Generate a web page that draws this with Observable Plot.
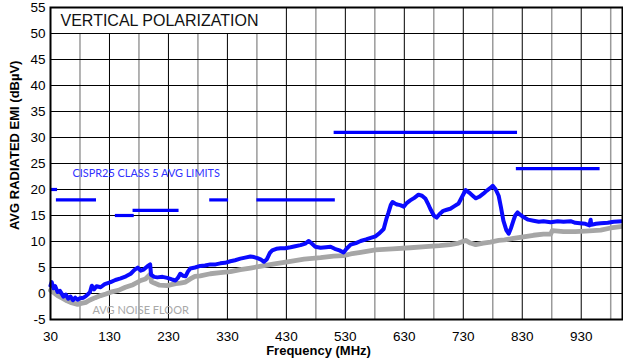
<!DOCTYPE html>
<html>
<head>
<meta charset="utf-8">
<script src="https://cdn.jsdelivr.net/npm/d3@7"></script>
<script src="https://cdn.jsdelivr.net/npm/@observablehq/plot@0.6"></script>
<style>
  html, body { margin: 0; padding: 0; background: #fff; }
  #chart { width: 623px; height: 360px; }
</style>
</head>
<body>
<div id="chart"></div>
<script>
// ---- Data ----
const xTicks = [30, 130, 230, 330, 430, 530, 630, 730, 830, 930];
const xMinorGrid = [80, 180, 280, 380, 480, 580, 680, 780, 880, 980];
const yTicks = [-5, 0, 5, 10, 15, 20, 25, 30, 35, 40, 45, 50, 55];

// CISPR25 class 5 average limit segments
const limitStart = [30, 40, 140, 170, 300, 380, 511, 820];
const limitEnd   = [42, 108, 172, 248, 332, 513, 822, 962];
const limitLevel = [20, 18, 15, 16, 18, 18, 31, 24];

// Measured EMI (blue)
const emiFreq = [30, 32, 35, 38, 42, 46, 52, 56, 60, 64, 68, 72, 76, 80, 86, 90, 94, 97, 100, 104, 108, 115, 122, 132, 140, 149, 158, 166, 172, 178, 183, 188, 194, 199, 200.5, 206, 211, 220, 228, 236, 242, 246, 250, 255, 259, 263, 267, 275, 284, 292, 301, 310, 318, 326, 335, 343, 352, 360, 369, 375, 381, 387, 392, 397, 402, 406, 413, 420, 428, 437, 445, 454, 462, 468, 473, 479, 488, 497, 505, 512, 520, 527, 532, 539, 548, 556, 565, 573, 581, 588, 595, 600, 603, 607, 610, 614, 618, 623, 629, 634, 640, 647, 654, 660, 666, 670, 674, 680, 685, 690, 696, 702, 708, 715, 722, 728, 734, 740, 746, 751, 757, 764, 770, 776, 780, 785, 790, 794, 798, 803, 807, 811, 815, 818, 822, 827, 832, 840, 849, 858, 866, 878, 890, 900, 912, 920, 928, 937, 944, 946, 947, 955, 963, 975, 985, 1000];
const emiLevel = [1.5, 2.2, 1.0, 1.4, 0.3, 0.5, -0.6, -0.2, -1.0, -0.6, -1.3, -0.8, -1.2, -0.9, -0.8, -0.5, -0.1, 0.3, 1.5, 0.8, 1.4, 1.2, 1.8, 2.2, 2.6, 2.9, 3.3, 3.8, 4.5, 5.0, 4.4, 4.6, 5.2, 5.6, 3.6, 3.2, 3.1, 3.2, 3.0, 2.7, 2.5, 3.0, 3.8, 3.4, 3.3, 4.2, 4.8, 5.0, 5.3, 5.4, 5.6, 5.6, 5.8, 5.9, 6.2, 6.4, 6.7, 6.9, 7.1, 7.0, 6.8, 6.5, 6.1, 6.6, 7.8, 8.3, 8.6, 8.7, 8.7, 8.9, 9.1, 9.3, 9.6, 10.1, 9.6, 9.0, 8.8, 8.9, 9.0, 8.6, 8.3, 7.9, 8.6, 9.4, 9.7, 10.1, 10.4, 10.7, 11.0, 11.6, 12.4, 14.5, 15.5, 17.0, 17.6, 17.3, 17.1, 17.0, 16.7, 17.4, 17.9, 18.4, 19.0, 18.8, 18.2, 17.3, 16.3, 15.0, 14.6, 15.3, 15.9, 16.1, 16.3, 16.8, 17.3, 18.6, 19.9, 19.4, 18.8, 18.3, 18.6, 19.2, 19.8, 20.3, 20.7, 20.0, 18.8, 16.5, 14.0, 12.2, 11.5, 12.6, 14.0, 15.0, 15.6, 15.1, 14.7, 14.2, 14.0, 13.8, 13.9, 13.7, 13.9, 13.8, 13.9, 13.6, 13.5, 13.4, 13.1, 14.2, 13.2, 13.4, 13.5, 13.6, 13.8, 13.9];

// Average noise floor (gray)
const noiseFreq = [30, 35, 42, 50, 58, 64, 70, 76, 82, 90, 96, 106, 115, 124, 132, 145, 157, 170, 183, 191, 200, 201, 206, 215, 228, 242, 250, 259, 267, 275, 284, 301, 318, 335, 352, 369, 380, 395, 410, 437, 460, 488, 510, 527, 539, 556, 581, 610, 640, 666, 690, 708, 722, 734, 742, 751, 764, 776, 790, 800, 815, 832, 849, 866, 878, 881, 900, 920, 937, 963, 980, 1000];
const noiseLevel = [0.6, 0.2, -0.4, -0.9, -1.4, -1.7, -1.9, -2.1, -1.9, -1.7, -1.3, -0.8, -0.4, -0.1, 0.25, 0.6, 1.2, 1.7, 2.5, 2.8, 3.8, 2.3, 2.0, 1.6, 1.5, 1.9, 2.0, 2.2, 2.8, 3.3, 3.4, 3.8, 4.0, 4.2, 4.6, 4.9, 5.1, 5.4, 5.7, 6.2, 6.6, 6.9, 7.2, 7.3, 7.6, 7.9, 8.4, 8.6, 8.8, 9.0, 9.2, 9.4, 9.7, 10.2, 9.7, 9.4, 9.7, 9.9, 10.2, 10.3, 10.6, 10.9, 11.2, 11.4, 11.4, 12.1, 11.9, 11.9, 12.0, 12.2, 12.6, 12.9];

// Text labels
const titleText = "VERTICAL POLARIZATION";
const limitText = "CISPR25 CLASS 5 AVG LIMITS";
const noiseText = "AVG NOISE FLOOR";
const xLabel = "Frequency (MHz)";
const yLabel = "AVG RADIATED EMI (dBµV)";

// ---- Build tables ----
const emi = emiFreq.map((f, i) => ({f, v: emiLevel[i]}));
const noise = noiseFreq.map((f, i) => ({f, v: noiseLevel[i]}));
const limits = limitStart.map((s, i) => ({x1: s, x2: limitEnd[i], y: limitLevel[i]}));

const FONT = "'Liberation Sans', Arial, Helvetica, sans-serif";

const chart = Plot.plot({
  width: 623,
  height: 360,
  marginLeft: 50,
  marginRight: 1,
  marginTop: 7,
  marginBottom: 41,
  style: {fontFamily: FONT, fontSize: "13px", color: "#000", background: "#fff", overflow: "visible"},
  x: {domain: [30, 1000]},
  y: {domain: [-5, 55]},
  marks: [
    // vertical grid
    Plot.ruleX(xMinorGrid, {stroke: "#9a9a9a", strokeWidth: 1.5}),
    Plot.ruleX(xTicks, {stroke: "#000", strokeWidth: 1}),
    // white title box
    Plot.rect([titleText], {x1: 30, x2: 430, y1: 50, y2: 55, fill: "#fff", insetRight: 1}),
    // horizontal grid
    Plot.ruleY(yTicks, {stroke: "#000", strokeWidth: 1}),
    // axes
    Plot.axisY(yTicks, {tickSize: 0, tickPadding: 5, tickFormat: d => String(d), fontSize: 13.5, label: null}),
    Plot.axisX(xTicks, {tickSize: 0, tickPadding: 12, tickFormat: d => String(d), fontSize: 13.5, label: null}),
    // limit lines
    Plot.ruleY(limits, {y: "y", x1: "x1", x2: "x2", stroke: "#0000ff", strokeWidth: 3.2}),
    // data
    Plot.line(noise, {x: "f", y: "v", stroke: "#a6a6a6", strokeWidth: 4.8, strokeLinejoin: "round"}),
    Plot.line(emi, {x: "f", y: "v", stroke: "#0a0aff", strokeWidth: 4, strokeLinejoin: "round"}),
    // frame
    Plot.frame({stroke: "#000", strokeWidth: 2}),
    // texts
    Plot.text([titleText], {x: 47, y: 52.4, text: d => d, textAnchor: "start", fontSize: 16, fill: "#111", fontFamily: FONT}),
    Plot.text([limitText], {x: 67.3, y: 23.1, text: d => d, textAnchor: "start", fontSize: 10.9, fill: "#3030ff", fontFamily: "Lato, 'Open Sans', sans-serif"}),
    Plot.text([noiseText], {x: 101.2, y: -3.3, text: d => d, textAnchor: "start", fontSize: 11, fill: "#a8a8a8", fontFamily: "Lato, 'Open Sans', sans-serif"}),
    Plot.text([xLabel], {x: 484.5, frameAnchor: "bottom", dy: 31, lineAnchor: "middle", textAnchor: "middle", text: d => d, fontSize: 13, fontWeight: "bold", fill: "#000", fontFamily: FONT}),
    Plot.text([yLabel], {y: 28.5, frameAnchor: "left", dx: -36, rotate: -90, textAnchor: "middle", lineAnchor: "middle", text: d => d, fontSize: 13, fontWeight: "bold", fill: "#000", fontFamily: FONT})
  ]
});
document.getElementById("chart").appendChild(chart);
</script>
</body>
</html>
